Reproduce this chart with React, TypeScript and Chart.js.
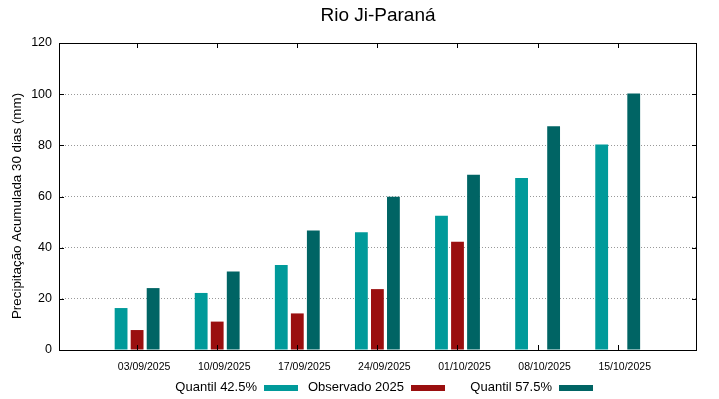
import React, { useEffect, useRef } from "react";
import { Chart, registerables } from "chart.js";

Chart.register(...registerables);

const chartTitle = "Rio Ji-Paraná";
const yAxisTitle = "Precipitação Acumulada 30 dias (mm)";
const categories = [
  "03/09/2025",
  "10/09/2025",
  "17/09/2025",
  "24/09/2025",
  "01/10/2025",
  "08/10/2025",
  "15/10/2025",
];
const quantil425 = [16.4, 22.3, 33.2, 46.0, 52.5, 67.2, 80.3];
const observado2025: (number | null)[] = [7.8, 11.1, 14.3, 23.8, 42.3, null, null];
const quantil575 = [24.2, 30.7, 46.7, 59.9, 68.5, 87.5, 100.3];
const yTicks = [0, 20, 40, 60, 80, 100, 120];

const seriesLabels = ["Quantil 42.5%", "Observado 2025", "Quantil 57.5%"];
const seriesColors = ["#009a9a", "#9a0f0f", "#006464"];

const FONT = "'Liberation Sans', Arial, sans-serif";

const decorPlugin = {
  id: "decor",
  afterDraw(chart: any) {
    const { ctx, chartArea } = chart;
    const { left, right, top, bottom } = chartArea;
    const xs = chart.scales.x;
    const ys = chart.scales.y;
    ctx.save();
    ctx.strokeStyle = "#000";
    ctx.lineWidth = 1;
    ctx.setLineDash([]);
    ctx.strokeRect(left + 0.5, top + 0.5, right - left - 1, bottom - top);
    ctx.beginPath();
    categories.forEach((_, i) => {
      const px = Math.round(xs.getPixelForValue(i)) + 0.5;
      ctx.moveTo(px, bottom);
      ctx.lineTo(px, bottom - 5);
      ctx.moveTo(px, top);
      ctx.lineTo(px, top + 5);
    });
    yTicks.forEach((v) => {
      const py = Math.round(ys.getPixelForValue(v)) + 0.5;
      ctx.moveTo(left, py);
      ctx.lineTo(left + 5, py);
      ctx.moveTo(right, py);
      ctx.lineTo(right - 5, py);
    });
    ctx.stroke();
    ctx.fillStyle = "#000";
    ctx.font = `19px ${FONT}`;
    ctx.textAlign = "center";
    ctx.textBaseline = "middle";
    ctx.fillText(chartTitle, (left + right) / 2, 16);
    ctx.save();
    ctx.translate(17, 206);
    ctx.rotate(-Math.PI / 2);
    ctx.font = `13.4px ${FONT}`;
    ctx.fillText(yAxisTitle, 0, 0);
    ctx.restore();
    ctx.font = `13px ${FONT}`;
    ctx.textAlign = "right";
    const swatchStarts = [264, 411, 559];
    seriesLabels.forEach((lab, i) => {
      const sx = swatchStarts[i];
      ctx.fillStyle = "#000";
      ctx.fillText(lab, sx - 7, 387);
      ctx.fillStyle = seriesColors[i];
      ctx.fillRect(sx, 385, 34, 6);
    });
    ctx.restore();
  },
};

export default function App() {
  const ref = useRef<HTMLCanvasElement | null>(null);
  useEffect(() => {
    if (!ref.current) return;
    const series = [quantil425, observado2025, quantil575];
    const chart = new Chart(ref.current, {
      type: "bar",
      data: {
        datasets: series.map((vals, k) => ({
          label: seriesLabels[k],
          data: vals.map((v, i) => ({ x: i, y: v })),
          backgroundColor: seriesColors[k],
          borderWidth: 0,
          categoryPercentage: 0.6,
          barPercentage: 0.8,
        })),
      } as any,
      options: {
        animation: false,
        responsive: false,
        maintainAspectRatio: false,
        layout: { padding: { left: 0, right: 22, top: 43, bottom: 0 } },
        plugins: {
          legend: { display: false },
          title: { display: false },
          tooltip: { enabled: false },
        },
        scales: {
          x: {
            type: "linear",
            min: -0.975,
            max: 6.99,
            offset: false,
            afterBuildTicks: (scale: any) => {
              scale.ticks = categories.map((_, i) => ({ value: i }));
            },
            afterFit: (scale: any) => {
              scale.height = 49;
            },
            ticks: {
              callback: (v: any) => categories[Math.round(v)] ?? "",
              font: { family: FONT, size: 10.5 },
              color: "#000",
              padding: 11,
              labelOffset: 7,
              maxRotation: 0,
              autoSkip: false,
            },
            grid: { display: false, drawTicks: false },
            border: { display: false },
          },
          y: {
            min: 0,
            max: 120,
            afterBuildTicks: (scale: any) => {
              scale.ticks = yTicks.map((v) => ({ value: v }));
            },
            afterFit: (scale: any) => {
              scale.width = 59;
            },
            ticks: {
              font: { family: FONT, size: 12.5 },
              color: "#000",
              padding: 7,
            },
            grid: {
              color: "#999",
              lineWidth: 1,
              drawTicks: false,
            },
            border: { display: false, dash: [1, 2] },
          },
        },
      } as any,
      plugins: [decorPlugin],
    });
    return () => chart.destroy();
  }, []);
  return (
    <div style={{ position: "fixed", left: 0, top: 0, width: 719, height: 399, background: "#fff" }}>
      <canvas ref={ref} width={719} height={399} style={{ width: 719, height: 399 }} />
    </div>
  );
}
